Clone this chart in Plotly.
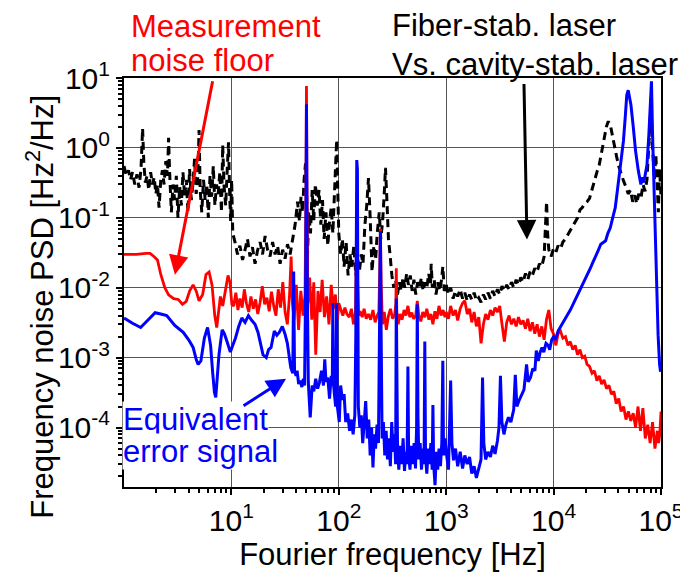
import plotly.graph_objects as go

# Measurement noise floor (red)
red_f = [1.0, 1.3, 1.6, 1.75, 1.9, 2.05, 2.2, 2.4, 2.6, 2.9, 3.2, 3.5, 3.8, 4.1, 4.4, 4.7, 5.0, 5.4, 5.8, 6.2,
         6.6, 7.0, 7.3, 7.6, 7.9, 8.3, 8.8, 9.3, 9.7, 10.1,
         10.5, 11.0, 11.5, 12.0, 12.6, 13.2, 13.8, 14.5, 15.2, 16.0, 16.8, 17.6, 18.5, 19.4, 20.4, 21.4, 22.5,
         23.6, 24.8, 26.0, 27.3, 28.7, 30.1, 31.6, 33.2, 34.8, 36.0, 37.0, 38.3, 40.2, 42.2, 44.3, 46.5, 48.5,
         49.5, 50.0, 50.5, 51.5, 53.5, 56.0, 58.5, 61.0, 64.0, 67.0, 70.0, 73.5, 77.0, 81.0, 85.0, 89.0, 93.0,
         97.0, 100, 104, 109, 114, 119, 125, 131, 137, 143, 145, 147, 149, 153, 158, 165, 172, 180, 189, 198,
         208, 218, 228, 236, 240, 244, 248, 255, 265, 277, 290, 303, 317, 332, 340, 343, 347, 357, 372, 388,
         405, 422, 440, 458, 478, 498, 520, 538, 556, 580, 605, 632, 660, 690, 720, 752, 785, 820, 857, 895,
         935, 975,
         1000, 1050, 1100, 1160, 1220, 1280, 1350, 1420, 1490, 1570, 1650, 1730, 1820, 1910, 2010, 2110,
         2220, 2330, 2450, 2580, 2710, 2850, 3000, 3150, 3310, 3480, 3660, 3850, 4050, 4260, 4480, 4710,
         4950, 5200, 5470, 5750, 6040, 6350, 6680, 7020, 7380, 7760, 8160, 8580, 9020, 9480, 9970,
         10500, 11000, 11600, 12200, 12900, 13600, 14300, 15100, 15900, 16700, 17600, 18500, 19500, 20500,
         21600, 22800, 24000, 25300, 26600, 28000, 29500, 31100, 32800, 34500, 36400, 38300, 40400, 42500,
         44800, 47200, 49700, 52300, 55100, 58000, 61100, 64400, 67800, 71400, 75200, 79200, 83400, 87800,
         92500, 95000, 97400, 100000]
red_psd = [0.030, 0.030, 0.031, 0.031, 0.028, 0.025, 0.0155, 0.010, 0.0079, 0.0070, 0.0068, 0.0058, 0.0064,
           0.0091, 0.011, 0.009, 0.0065, 0.008, 0.0155, 0.0168, 0.011, 0.0040, 0.0027, 0.0050, 0.0075, 0.0055,
           0.0090, 0.0150, 0.0120, 0.0058,
           0.0055, 0.0085, 0.0048, 0.0070, 0.0052, 0.0095, 0.0060, 0.0045, 0.0075, 0.0050, 0.0068, 0.0042,
           0.0062, 0.0105, 0.0058, 0.0072, 0.0046, 0.0088, 0.0055, 0.0040, 0.0095, 0.0052, 0.0120, 0.0045,
           0.0030, 0.0080, 0.0280, 0.0060, 0.0035, 0.0110, 0.0025, 0.0090, 0.0040, 0.0080,
           0.30, 7.7, 0.40, 0.0060, 0.0140, 0.0035, 0.0120, 0.0011, 0.0090, 0.0045, 0.0130, 0.0038, 0.0075,
           0.0030, 0.0110, 0.0050, 0.0080, 0.0035, 0.0060, 0.0048, 0.0040, 0.0052, 0.0042, 0.0038, 0.0050,
           0.0030, 0.0045, 0.0200, 0.090, 0.0150, 0.0040, 0.0046, 0.0038, 0.0050, 0.0036, 0.0042, 0.0035,
           0.0048, 0.0032, 0.0040, 0.0045, 0.0150, 0.070, 0.0120, 0.0030, 0.0045, 0.0025, 0.0040, 0.0050,
           0.0036, 0.0042, 0.0060, 0.019, 0.0045, 0.0030, 0.0042, 0.0035, 0.0048, 0.0040, 0.0055, 0.0038,
           0.0044, 0.0036, 0.0040, 0.0065, 0.0040, 0.0033, 0.0045, 0.0038, 0.0050, 0.0035, 0.0042, 0.0030,
           0.0046, 0.0036, 0.0055, 0.0040, 0.0048, 0.0038,
           0.0045, 0.0036, 0.0055, 0.0040, 0.0048, 0.0034, 0.0050, 0.0060, 0.0065, 0.0042, 0.0050, 0.0032,
           0.0045, 0.0028, 0.0038, 0.0016, 0.0030, 0.0042, 0.0035, 0.0048, 0.0040, 0.0052, 0.0045, 0.0055,
           0.0030, 0.0017, 0.0032, 0.0040, 0.0030, 0.0036, 0.0028, 0.0038, 0.0030, 0.0034, 0.0026, 0.0036,
           0.0024, 0.0032, 0.0022, 0.0030, 0.0020, 0.0028, 0.0018, 0.0035, 0.0048, 0.0026, 0.0022,
           1.5e-3, 2.2e-3, 2.4e-3, 1.9e-3, 2.0e-3, 1.5e-3, 1.7e-3, 1.3e-3, 1.5e-3, 1.1e-3, 1.3e-3, 1.0e-3,
           1.05e-3, 8.0e-4, 7.5e-4, 6.0e-4, 6.5e-4, 4.7e-4, 5.5e-4, 4.2e-4, 4.8e-4, 3.6e-4, 4.0e-4, 3.0e-4,
           3.3e-4, 2.2e-4, 2.6e-4, 1.7e-4, 2.0e-4, 1.3e-4, 1.7e-4, 1.25e-4, 1.6e-4, 1.0e-4, 2.0e-4, 9.0e-5,
           1.9e-4, 7.0e-5, 1.1e-4, 6.0e-5, 1.2e-4, 5.0e-5, 9.0e-5, 6.0e-5, 8.0e-5, 1.7e-4]

# Equivalent error signal (blue)
blue_f = [1.0, 1.2, 1.43, 1.7, 1.95, 2.2, 2.5, 2.97, 3.56, 4.0, 4.4, 4.7, 4.9, 5.2, 5.6, 6.0, 6.4, 6.7, 6.95,
          7.15, 7.4, 7.66, 8.2, 8.6, 9.1, 9.78, 10.3, 10.9, 11.7, 12.5, 13.4, 14.4, 15.5, 16.6, 17.7, 18.7,
          19.7, 21.1, 22.2, 23.4, 24.2, 25.1, 26.5, 27.9, 29.8, 31.5, 33.2, 34.5, 35.7, 37.3, 38.0, 38.7,
          40.0, 40.9, 42.3, 43.7, 45.3, 46.8, 48.0, 49.3, 50.0, 50.7, 52.0, 54.2, 56.5, 58.5, 61, 63.5, 66,
          69, 72, 74, 76, 79, 82, 85, 87, 88, 89, 91, 93.5, 95.5, 97, 101,
          104, 108, 112, 116, 121, 126, 131, 136, 141, 144, 145, 147, 149, 152, 157, 162, 167, 172, 178,
          184, 190, 196, 202, 208, 214, 220, 227, 234, 240, 244, 248, 253, 260, 268, 276, 284, 293, 302,
          311, 320, 330, 338, 343, 347, 352, 362, 373, 385, 397, 409, 421, 432, 440, 447, 460, 474, 488,
          503, 518, 530, 538, 546, 556, 572, 589, 606, 622, 632, 642, 660, 680, 700, 720, 740, 752, 764,
          787, 810, 834, 858, 884, 910, 930, 945, 975, 1000,
          1050, 1100, 1130, 1170, 1220, 1280, 1350, 1420, 1490, 1570, 1650, 1730, 1820, 1910, 2010, 2110,
          2180, 2240, 2330, 2450, 2580, 2710, 2850, 3000, 3100, 3200, 3300, 3450, 3600, 3800, 4000, 4250,
          4400, 4550, 4750, 5000, 5300, 5600, 5800, 6100, 6400, 6700, 6900, 7200, 7500, 7800, 8100, 8500,
          8900, 9200, 9600, 10000,
          10400, 11000, 11700, 12400, 13000, 13600, 14300, 15000, 15700, 16500, 17300, 18100, 19000,
          19800, 20800, 22000, 23200, 24400, 25800, 27500, 29000, 30500, 32000, 33700, 35500, 37500,
          39300, 41000, 43000, 44700, 46500, 48000, 49500, 51000, 52500, 55000, 58000, 61500, 63500,
          65000, 67000, 69000, 71000, 74000, 77000, 79500, 81500, 83500, 86000, 88000, 90000, 91500,
          94000, 97000, 99000]
blue_psd = [3.7e-3, 3.1e-3, 2.7e-3, 3.5e-3, 4.4e-3, 4.2e-3, 4.0e-3, 2.9e-3, 2.3e-3, 1.8e-3, 1.4e-3, 9.5e-4,
            8.0e-4, 9.0e-4, 1.9e-3, 2.7e-3, 1.5e-3, 6.0e-4, 3.2e-4, 2.7e-4, 5.0e-4, 1.1e-3, 2.5e-3, 2.2e-3,
            1.7e-3, 1.2e-3, 1.5e-3, 1.9e-3, 2.8e-3, 3.7e-3, 3.2e-3, 4.0e-3, 3.4e-3, 3.0e-3, 2.3e-3, 1.6e-3,
            1.1e-3, 1.0e-3, 1.3e-3, 1.4e-3, 1.9e-3, 2.4e-3, 2.1e-3, 2.3e-3, 2.8e-3, 2.2e-3, 1.6e-3, 1.0e-3,
            7.2e-4, 6.0e-4, 1.7e-2, 6.5e-4, 5.5e-4, 6.5e-4, 4.2e-4, 4.7e-4, 3.8e-4, 5.0e-4, 4.0e-4, 2.0e-2,
            4.2, 2.0e-2, 4.5e-4, 1.4e-4, 4.0e-4, 3.3e-4, 5.0e-4, 3.6e-4, 4.4e-4, 6.5e-4, 4.0e-4, 9.5e-4,
            4.5e-4, 5.2e-4, 2.6e-4, 5.5e-4, 4.0e-4, 6.0e-3, 4.5e-4, 3.0e-4, 2.0e-4, 6.0e-3, 2.0e-4, 1.2e-4,
            4.0e-4, 2.5e-4, 3.0e-4, 1.2e-4, 1.6e-4, 9.0e-5, 1.3e-4, 8.0e-5, 1.5e-4, 2.0e-3, 0.40, 0.67,
            0.50, 2.0e-4, 1.0e-4, 1.5e-4, 6.0e-5, 1.2e-4, 2.4e-4, 7.0e-5, 1.3e-4, 4.0e-5, 1.0e-4, 2.7e-5,
            8.0e-5, 5.0e-5, 1.1e-4, 6.0e-5, 3.0e-3, 0.065, 2.0e-3, 7.0e-5, 1.2e-4, 4.0e-5, 9.0e-5, 3.5e-5,
            7.0e-5, 2.8e-5, 1.2e-4, 4.5e-5, 8.0e-5, 3.0e-5, 7.0e-3, 5.0e-4, 6.0e-5, 2.5e-5, 5.5e-5, 3.0e-5,
            7.0e-5, 2.4e-5, 4.5e-5, 3.0e-5, 7.5e-4, 4.0e-5, 2.5e-5, 5.5e-5, 3.0e-5, 6.0e-5, 2.6e-5, 1.0e-4,
            5.8e-3, 1.5e-4, 3.5e-5, 6.0e-5, 2.5e-5, 5.0e-5, 3.0e-5, 1.7e-3, 4.0e-5, 2.2e-5, 5.0e-5, 3.0e-5,
            6.0e-5, 2.5e-5, 2.1e-4, 3.0e-5, 1.5e-5, 4.5e-5, 2.5e-5, 5.0e-5, 2.8e-5, 6.0e-5, 9.0e-4, 4.0e-5,
            7.0e-5, 4.5e-5,
            2.5e-5, 4.7e-4, 6.0e-5, 3.4e-5, 5.0e-5, 2.8e-5, 4.5e-5, 2.6e-5, 4.0e-5, 3.0e-5, 3.8e-5, 2.2e-5,
            2.8e-5, 1.9e-5, 2.6e-5, 3.5e-5, 5.2e-4, 6.0e-5, 3.5e-5, 4.5e-5, 3.8e-5, 5.5e-5, 4.2e-5, 6.5e-5,
            1.0e-4, 5.5e-4, 1.2e-4, 8.0e-5, 1.1e-4, 1.4e-4, 1.2e-4, 1.8e-4, 5.7e-4, 2.0e-4, 2.4e-4, 2.8e-4,
            3.5e-4, 8.0e-4, 4.5e-4, 5.2e-4, 7.0e-4, 6.5e-4, 1.26e-3, 9.0e-4, 1.2e-3, 1.4e-3, 1.2e-3, 1.6e-3,
            1.5e-3, 1.3e-3, 1.8e-3, 2.0e-3,
            1.8e-3, 2.4e-3, 2.8e-3, 3.3e-3, 3.6e-3, 4.2e-3, 4.8e-3, 5.6e-3, 6.4e-3, 7.5e-3, 8.8e-3, 0.010,
            0.012, 0.013, 0.016, 0.019, 0.023, 0.027, 0.033, 0.042, 0.044, 0.047, 0.060, 0.072, 0.10, 0.14,
            0.25, 0.41, 0.80, 1.26, 2.8, 5.7, 6.7, 5.0, 4.1, 2.1, 0.90, 0.47, 0.36, 0.30, 0.38, 0.32, 0.40,
            0.57, 1.5, 4.0, 9.0, 1.5, 0.25, 0.10, 0.030, 0.011, 2.1e-3, 8.0e-4, 6.3e-4]

# Fiber-stab. laser vs. cavity-stab. laser (black dashed)
black_f = [1.00, 1.05, 1.10, 1.15, 1.20, 1.26, 1.32, 1.38, 1.44, 1.49, 1.53, 1.58, 1.64, 1.70, 1.77, 1.84,
           1.91, 1.98, 2.05, 2.12, 2.20, 2.28, 2.36, 2.45, 2.54, 2.60, 2.66, 2.76, 2.86, 2.96, 3.07, 3.18,
           3.30, 3.42, 3.54, 3.67, 3.80, 3.94, 4.08, 4.23, 4.38, 4.54, 4.70, 4.87, 5.00, 5.12, 5.30, 5.50,
           5.70, 5.90, 6.10, 6.32, 6.55, 6.78, 7.02, 7.27, 7.53, 7.80, 8.08, 8.30, 8.55, 8.85, 9.15, 9.40,
           9.65, 9.85, 10.05, 10.3,
           10.8, 11.4, 12.0, 12.7, 13.4, 14.1, 14.9, 15.7, 16.6, 17.5, 18.5, 19.5, 20.6, 21.7, 22.9, 24.2,
           25.5, 26.9, 28.4, 30.0, 31.6, 33.3, 35.2, 37.1, 39.2, 41.3, 43.0, 44.5, 46.0, 47.5, 49.0, 50.0,
           51.0, 52.5, 54.5, 56.5, 58.5, 60.5, 63.0, 65.5, 68.0, 70.5, 73.0, 76.0, 79.0, 82.0, 85.0, 88.0,
           91.0, 93.5, 95.5, 97.5, 100, 104, 108, 112, 117, 122, 127, 132, 138, 144, 150, 156, 162, 168,
           175, 182, 189, 196, 204, 212, 220, 228, 238, 246, 256, 266, 272, 280, 290, 300, 312, 325, 338,
           352, 366, 381, 396, 412, 428, 445, 463, 482, 501, 521, 542, 564, 587, 610, 635, 660, 687, 714,
           725, 743, 773, 804, 836, 870, 905, 930, 960,
           1000, 1050, 1100, 1160, 1220, 1280, 1350, 1420, 1490, 1570, 1650, 1730, 1820, 1910, 2010, 2110,
           2220, 2330, 2450, 2580, 2710, 2850, 3000, 3150, 3310, 3480, 3660, 3850, 4050, 4260, 4480, 4710,
           4950, 5200, 5470, 5750, 6040, 6350, 6680, 7020, 7380, 7760, 8160, 8400, 8600, 8800, 9020, 9480,
           9970,
           10500, 11000, 11600, 12200, 12900, 13600, 14300, 15100, 15900, 16700, 17600, 18500, 19500,
           20500, 21600, 22800, 24000, 25300, 26600, 28000, 29500, 31000, 32300, 33800, 35300, 37000,
           38600, 40400, 42500, 44700, 47000, 49500, 52000, 54500, 57000, 59500, 62000, 65000, 68000,
           71000, 74000, 77000, 79500, 82000, 84500, 87000, 89500, 92000, 94500, 97000, 100000]
black_psd = [0.55, 0.40, 0.48, 0.35, 0.45, 0.30, 0.42, 0.27, 0.50, 1.9, 0.60, 0.32, 0.40, 0.25, 0.45, 0.30,
             0.38, 0.22, 0.30, 0.14, 0.35, 0.48, 0.30, 0.65, 0.40, 1.4, 0.45, 0.12, 0.30, 0.18, 0.40, 0.10,
             0.28, 0.15, 0.45, 0.20, 0.35, 0.12, 0.50, 0.18, 0.30, 0.70, 0.22, 0.40, 1.8, 0.25, 0.12, 0.35,
             0.18, 0.30, 0.10, 0.40, 0.20, 0.55, 0.15, 0.30, 0.22, 0.45, 0.12, 1.1, 0.28, 0.15, 0.50, 1.2,
             0.20, 0.09, 0.35, 0.06,
             0.045, 0.030, 0.040, 0.025, 0.035, 0.050, 0.028, 0.038, 0.022, 0.034, 0.045, 0.030, 0.055,
             0.035, 0.028, 0.045, 0.030, 0.040, 0.022, 0.035, 0.026, 0.042, 0.030, 0.050, 0.080, 0.17, 0.09,
             0.20, 0.12, 0.35, 0.60, 0.30, 0.025, 0.12, 0.06, 0.25, 0.09, 0.30, 0.15, 0.25, 0.08, 0.18,
             0.05, 0.12, 0.04, 0.09, 0.14, 0.06, 0.20, 0.50, 1.3, 0.30, 0.06, 0.03, 0.05, 0.02, 0.045,
             0.015, 0.03, 0.02, 0.04, 0.015, 0.025, 0.018, 0.03, 0.022, 0.08, 0.15, 0.37, 0.10, 0.017, 0.04,
             0.025, 0.06, 0.12, 0.05, 0.09, 0.25, 0.52, 0.19, 0.05, 0.03, 0.015, 0.010, 0.013, 0.008, 0.012,
             0.009, 0.014, 0.010, 0.016, 0.011, 0.015, 0.009, 0.013, 0.008, 0.012, 0.010, 0.014, 0.009,
             0.012, 0.010, 0.016, 0.011, 0.022, 0.010, 0.013, 0.008, 0.012, 0.009, 0.013, 0.020, 0.009,
             0.011, 0.008, 0.010, 0.007, 0.009, 0.0075, 0.0095, 0.007, 0.0085, 0.0065, 0.008, 0.0068,
             0.0085, 0.0065, 0.0072, 0.0062, 0.008, 0.0068, 0.0085, 0.007, 0.009, 0.0075, 0.0095, 0.008,
             0.0105, 0.009, 0.011, 0.0095, 0.012, 0.010, 0.013, 0.011, 0.014, 0.012, 0.016, 0.013, 0.017,
             0.015, 0.019, 0.017, 0.022, 0.020, 0.028, 0.09, 0.17, 0.06, 0.035, 0.028, 0.036,
             0.032, 0.040, 0.036, 0.045, 0.050, 0.058, 0.065, 0.075, 0.090, 0.10, 0.13, 0.14, 0.16, 0.17,
             0.19, 0.26, 0.33, 0.45, 0.57, 0.90, 1.4, 2.0, 2.4, 2.1, 1.5, 1.0, 0.75, 0.55, 0.42, 0.34, 0.28,
             0.22, 0.25, 0.17, 0.21, 0.16, 0.22, 0.19, 0.30, 0.24, 0.35, 0.9, 2.7, 1.6, 0.6, 0.35, 0.8,
             0.25, 0.12, 0.5, 0.2]

x_tickvals = [10, 100, 1000, 10000, 100000]
x_ticktext = ['10<sup>1</sup>', '10<sup>2</sup>', '10<sup>3</sup>', '10<sup>4</sup>', '10<sup>5</sup>']
y_tickvals = [1e-4, 1e-3, 1e-2, 1e-1, 1, 10]
y_ticktext = ['10<sup>-4</sup>', '10<sup>-3</sup>', '10<sup>-2</sup>', '10<sup>-1</sup>', '10<sup>0</sup>',
              '10<sup>1</sup>']

# minor ticks at 2..9 of every decade
x_minor = [m * 10 ** d for d in range(0, 5) for m in range(2, 10)]
y_minor = [m * 10.0 ** d for d in range(-5, 1) for m in range(2, 10)]

FONT = 'Arial, Liberation Sans, sans-serif'

fig = go.Figure()
fig.add_trace(go.Scatter(x=black_f, y=black_psd, mode='lines',
                         line=dict(color='black', width=3, dash='8px,5px')))
fig.add_trace(go.Scatter(x=red_f, y=red_psd, mode='lines',
                         line=dict(color='#ff0000', width=2.8)))
fig.add_trace(go.Scatter(x=blue_f, y=blue_psd, mode='lines',
                         line=dict(color='#0000ff', width=3)))

axis_common = dict(type='log', showgrid=True, gridcolor='#555555', gridwidth=1,
                   showline=True, linecolor='black', linewidth=2, mirror=True,
                   ticks='outside', ticklen=6, tickwidth=1.5, tickcolor='black',
                   tickfont=dict(family=FONT, size=30, color='black'), zeroline=False)

fig.update_xaxes(range=[0, 5], tickmode='array', tickvals=x_tickvals, ticktext=x_ticktext,
                 minor=dict(tickmode='array', tickvals=x_minor, ticks='outside', ticklen=4,
                            tickcolor='black', showgrid=False),
                 title=dict(text='Fourier frequency [Hz]', font=dict(family=FONT, size=31, color='black'),
                            standoff=6),
                 **axis_common)
fig.update_yaxes(range=[-4.85, 1], tickmode='array', tickvals=y_tickvals, ticktext=y_ticktext,
                 minor=dict(tickmode='array', tickvals=y_minor, ticks='outside', ticklen=4,
                            tickcolor='black', showgrid=False),
                 **axis_common)

annotations = [
    # labels
    dict(text='Measurement', x=0.012, y=1.127, font=dict(color='#ff0000')),
    dict(text='noise floor', x=0.012, y=1.044, font=dict(color='#ff0000')),
    dict(text='Fiber-stab. laser', x=0.498, y=1.128, font=dict(color='black')),
    dict(text='Vs. cavity-stab. laser', x=0.498, y=1.033, font=dict(color='black')),
    dict(text='Equivalent', x=-0.004, y=0.164, font=dict(color='#0000ff'), bgcolor='white'),
    dict(text='error signal', x=-0.004, y=0.086, font=dict(color='#0000ff'), bgcolor='white'),
    dict(text='Frequency noise PSD [Hz<sup>2</sup>/Hz]', x=-0.157, y=0.44, textangle=-90,
         xanchor='center', font=dict(color='black')),
]
for a in annotations:
    a.setdefault('xanchor', 'left')
    a['font'] = dict(family=FONT, size=31, **a['font'])
    fig.add_annotation(xref='paper', yref='paper', yanchor='middle', showarrow=False,
                       borderpad=0, **a)

# arrows (tip position in log units, tail offset in pixels)
arrows = [
    dict(x=0.474, y=-1.814, ax=38, ay=-195, arrowcolor='#ff0000'),
    dict(x=3.752, y=-1.31, ax=-3, ay=-157, arrowcolor='black'),
    dict(x=1.509, y=-3.30, ax=-44, ay=28, arrowcolor='#0000ff'),
]
for a in arrows:
    fig.add_annotation(xref='x', yref='y', text='', showarrow=True, arrowhead=2, arrowsize=1.3,
                       arrowwidth=3, **a)

fig.update_layout(width=688, height=574, showlegend=False,
                  plot_bgcolor='white', paper_bgcolor='white',
                  font=dict(family=FONT, color='black'),
                  margin=dict(l=116, r=23, t=70, b=95))

fig.write_html('out.html')
